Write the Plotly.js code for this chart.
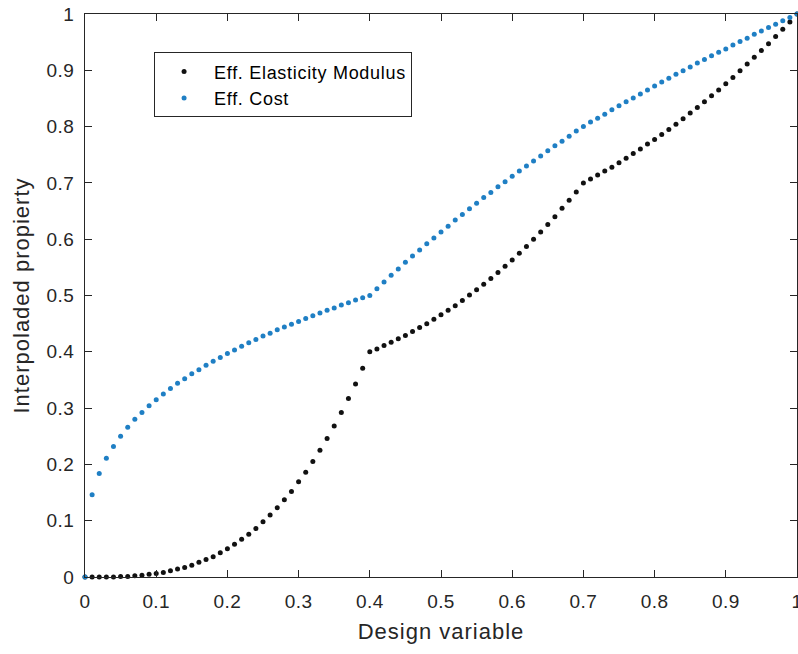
<!DOCTYPE html>
<html>
<head>
<meta charset="utf-8">
<script src="https://cdn.plot.ly/plotly-3.0.1.min.js"></script>
<style>
html,body{margin:0;padding:0;background:#fff;}
#chart{width:798px;height:654px;}
text.legendtext{letter-spacing:0.7px;}
text.xtitle, text.ytitle{letter-spacing:1px;}
.xtick text, .ytick text{letter-spacing:0.4px;}
</style>
</head>
<body>
<div id="chart"></div>
<script>
// Design variable samples
const designVar = [0,0.01,0.02,0.03,0.04,0.05,0.06,0.07,0.08,0.09,
0.10,0.11,0.12,0.13,0.14,0.15,0.16,0.17,0.18,0.19,
0.20,0.21,0.22,0.23,0.24,0.25,0.26,0.27,0.28,0.29,
0.30,0.31,0.32,0.33,0.34,0.35,0.36,0.37,0.38,0.39,
0.40,0.41,0.42,0.43,0.44,0.45,0.46,0.47,0.48,0.49,
0.50,0.51,0.52,0.53,0.54,0.55,0.56,0.57,0.58,0.59,
0.60,0.61,0.62,0.63,0.64,0.65,0.66,0.67,0.68,0.69,
0.70,0.71,0.72,0.73,0.74,0.75,0.76,0.77,0.78,0.79,
0.80,0.81,0.82,0.83,0.84,0.85,0.86,0.87,0.88,0.89,
0.90,0.91,0.92,0.93,0.94,0.95,0.96,0.97,0.98,0.99,1.00];

// Eff. Elasticity Modulus
const elasticity = [0,0,0,0,0,0.001,0.001,0.002,0.003,0.005,
0.006,0.008,0.011,0.014,0.017,0.021,0.026,0.031,0.036,0.043,
0.050,0.058,0.067,0.076,0.086,0.098,0.110,0.123,0.137,0.152,
0.169,0.186,0.205,0.225,0.246,0.268,0.292,0.317,0.343,0.371,
0.400,0.405,0.411,0.417,0.423,0.429,0.436,0.443,0.450,0.458,
0.466,0.474,0.482,0.491,0.501,0.510,0.520,0.530,0.541,0.552,
0.563,0.575,0.587,0.600,0.613,0.626,0.640,0.655,0.669,0.684,
0.700,0.707,0.714,0.721,0.728,0.736,0.744,0.752,0.760,0.769,
0.777,0.786,0.795,0.804,0.814,0.824,0.834,0.844,0.855,0.865,
0.876,0.887,0.899,0.911,0.923,0.935,0.947,0.960,0.973,0.986,1.000];

// Eff. Cost
const cost = [0,0.146,0.184,0.211,0.232,0.250,0.266,0.280,0.292,0.304,
0.315,0.325,0.335,0.344,0.352,0.361,0.368,0.376,0.383,0.390,
0.397,0.403,0.410,0.416,0.422,0.428,0.433,0.439,0.444,0.449,
0.454,0.459,0.464,0.469,0.474,0.478,0.483,0.487,0.492,0.496,
0.500,0.512,0.524,0.536,0.547,0.559,0.570,0.581,0.592,0.602,
0.613,0.623,0.634,0.644,0.654,0.664,0.674,0.683,0.693,0.702,
0.712,0.721,0.730,0.739,0.748,0.757,0.766,0.774,0.783,0.792,
0.800,0.808,0.815,0.822,0.830,0.837,0.844,0.851,0.858,0.865,
0.872,0.879,0.886,0.893,0.899,0.906,0.913,0.919,0.926,0.932,
0.938,0.945,0.951,0.957,0.964,0.970,0.976,0.982,0.988,0.994,1.000];

const seriesNames = ["Eff. Elasticity Modulus", "Eff. Cost"];
const xTitle = "Design variable";
const yTitle = "Interpoladed propierty";

const FONT = "Arial, 'Liberation Sans', Helvetica, sans-serif";
const AX = "#262626";

const traces = [
  {x: designVar, y: elasticity, name: seriesNames[0], type: "scatter", mode: "markers",
   marker: {color: "#111111", size: 5}, cliponaxis: false},
  {x: designVar, y: cost, name: seriesNames[1], type: "scatter", mode: "markers",
   marker: {color: "#1f7fc4", size: 5}, cliponaxis: false}
];

const axisCommon = {
  range: [0, 1], dtick: 0.1, tick0: 0,
  showgrid: false, zeroline: false,
  showline: true, linecolor: AX, linewidth: 1, mirror: "ticks",
  ticks: "inside", ticklen: 7, tickcolor: AX, tickwidth: 1,
  tickfont: {family: FONT, size: 19, color: AX},
  ticklabeloverflow: "allow"
};

const layout = {
  width: 798, height: 654,
  paper_bgcolor: "#ffffff", plot_bgcolor: "#ffffff",
  margin: {l: 85, r: 1, t: 14, b: 77},
  showlegend: true,
  xaxis: Object.assign({}, axisCommon, {
    title: {text: xTitle, font: {family: FONT, size: 22, color: AX}, standoff: 12},
    ticklabelstandoff: 7
  }),
  yaxis: Object.assign({}, axisCommon, {
    title: {text: yTitle, font: {family: FONT, size: 22, color: AX}, standoff: 10},
    ticklabelstandoff: 6
  }),
  legend: {
    x: 0.097, y: 0.932, xanchor: "left", yanchor: "top",
    bgcolor: "#ffffff", bordercolor: AX, borderwidth: 1,
    font: {family: FONT, size: 18, color: "#000000"},
    itemwidth: 50, indentation: -1
  }
};

Plotly.newPlot("chart", traces, layout, {displayModeBar: false, staticPlot: true});
</script>
</body>
</html>
